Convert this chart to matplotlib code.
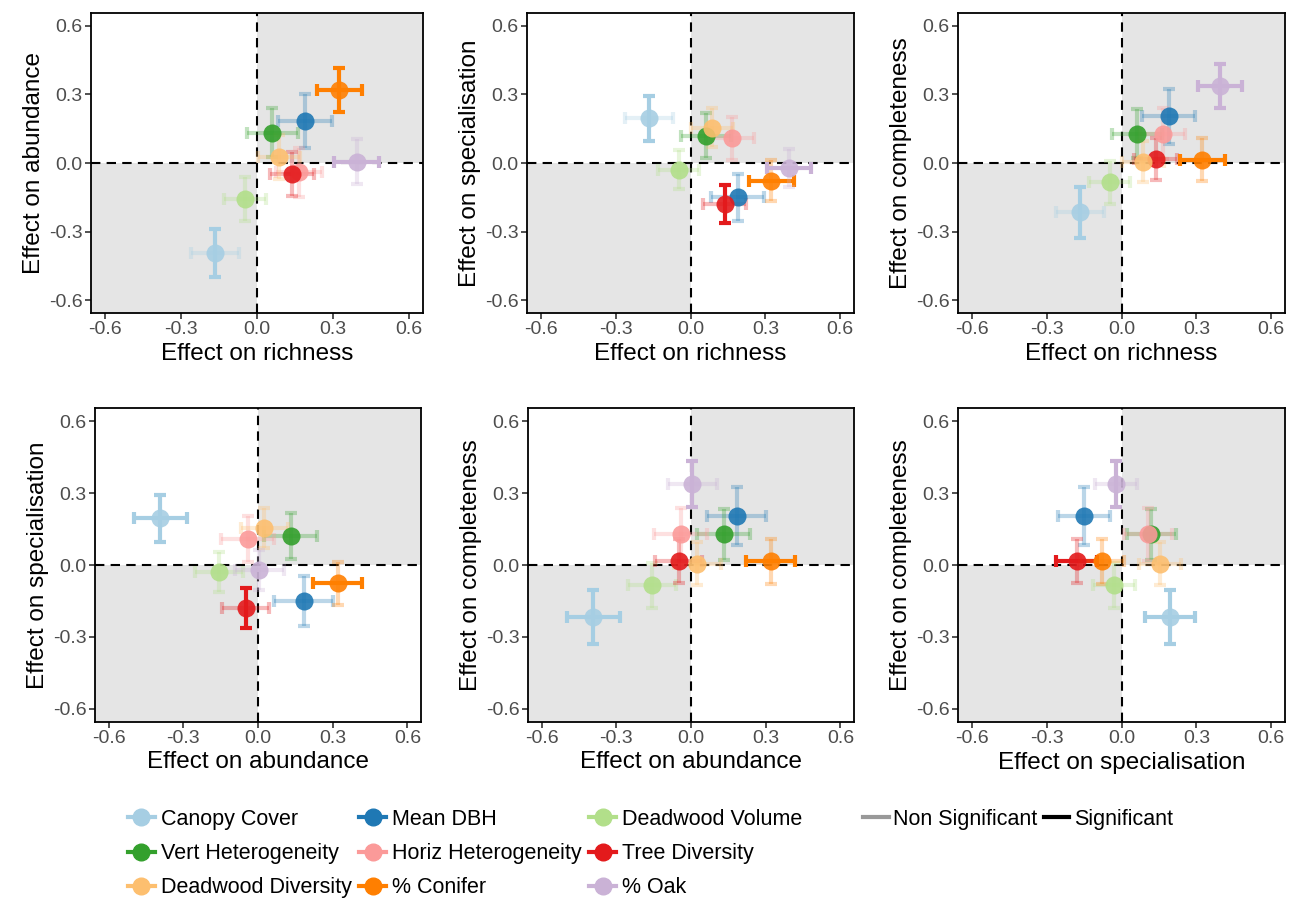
import numpy as np
import matplotlib
matplotlib.use('Agg')
import matplotlib.pyplot as plt
from matplotlib.lines import Line2D

plt.rcParams['font.family'] = ['Liberation Sans', 'DejaVu Sans']

# habitat variables and their colours
names = ['Canopy Cover', 'Mean DBH', 'Deadwood Volume',
         'Vert Heterogeneity', 'Horiz Heterogeneity', 'Tree Diversity',
         'Deadwood Diversity', '% Conifer', '% Oak']
colors = ['#A6CEE3', '#1F78B4', '#B2DF8A', '#33A02C', '#FB9A99',
          '#E31A1C', '#FDBF6F', '#FF7F00', '#CAB2D6']

# effect sizes, CI half widths and significance (1 = significant)
richness = [-0.167, 0.189, -0.047, 0.061, 0.166, 0.137, 0.087, 0.324, 0.393]
richness_ci = [0.095, 0.105, 0.083, 0.100, 0.090, 0.087, 0.083, 0.089, 0.088]
richness_sig = [0, 0, 0, 0, 0, 0, 0, 1, 1]

abundance = [-0.393, 0.183, -0.156, 0.132, -0.041, -0.050, 0.026, 0.320, 0.006]
abundance_ci = [0.106, 0.118, 0.096, 0.106, 0.106, 0.096, 0.096, 0.097, 0.097]
abundance_sig = [1, 0, 0, 0, 0, 0, 0, 1, 0]

specialisation = [0.195, -0.150, -0.029, 0.120, 0.107, -0.180, 0.154, -0.077, -0.022]
specialisation_ci = [0.099, 0.103, 0.085, 0.097, 0.096, 0.082, 0.084, 0.088, 0.084]
specialisation_sig = [1, 0, 0, 0, 0, 1, 0, 0, 0]

completeness = [-0.216, 0.204, -0.085, 0.128, 0.128, 0.017, 0.006, 0.015, 0.337]
completeness_ci = [0.113, 0.120, 0.095, 0.107, 0.110, 0.093, 0.091, 0.095, 0.097]
completeness_sig = [1, 0, 0, 0, 0, 0, 0, 0, 1]

ticks = [-0.6, -0.3, 0.0, 0.3, 0.6]
tick_labels = ['-0.6', '-0.3', '0.0', '0.3', '0.6']

measures = {
    'richness': (richness, richness_ci, richness_sig),
    'abundance': (abundance, abundance_ci, abundance_sig),
    'specialisation': (specialisation, specialisation_ci, specialisation_sig),
    'completeness': (completeness, completeness_ci, completeness_sig),
}

panels = [('richness', 'abundance'), ('richness', 'specialisation'),
          ('richness', 'completeness'), ('abundance', 'specialisation'),
          ('abundance', 'completeness'), ('specialisation', 'completeness')]

# axes boxes in pixels: left, top, width, height
boxes = [(91, 13, 332, 300), (527, 13, 327, 300), (958, 13, 327, 300),
         (95, 408, 326, 314), (528, 408, 326, 314), (958, 408, 327, 314)]

W, H = 1300, 900
fig = plt.figure(figsize=(13, 9), dpi=100)

lim = 0.655
for (xm, ym), (l, t, w, h) in zip(panels, boxes):
    ax = fig.add_axes([l / W, 1 - (t + h) / H, w / W, h / H])
    ax.set_xlim(-lim, lim)
    ax.set_ylim(-lim, lim)
    ax.fill_between([0, lim], 0, lim, color='#E5E5E5', lw=0, zorder=0)
    ax.fill_between([-lim, 0], -lim, 0, color='#E5E5E5', lw=0, zorder=0)
    ax.axhline(0, color='black', ls=(0, (4.5, 3)), lw=1.5, zorder=1)
    ax.axvline(0, color='black', ls=(0, (4.5, 3)), lw=1.5, zorder=1)

    xv, xci, xs = measures[xm]
    yv, yci, ys = measures[ym]
    for i in range(len(names)):
        ax.errorbar(xv[i], yv[i], xerr=xci[i], fmt='none', ecolor=colors[i],
                    elinewidth=3, capsize=4.5, capthick=3,
                    alpha=1.0 if xs[i] else 0.3, zorder=2)
        ax.errorbar(xv[i], yv[i], yerr=yci[i], fmt='none', ecolor=colors[i],
                    elinewidth=3, capsize=4.5, capthick=3,
                    alpha=1.0 if ys[i] else 0.3, zorder=2)
    for i in range(len(names)):
        ax.plot(xv[i], yv[i], 'o', color=colors[i], ms=13, mew=0,
                alpha=0.9, zorder=3)

    ax.set_xticks(ticks)
    ax.set_xticklabels(tick_labels)
    ax.set_yticks(ticks)
    ax.set_yticklabels(tick_labels)
    ax.tick_params(labelsize=14, colors='#4D4D4D', length=4, width=1.2, pad=2)
    ax.tick_params(color='#333333')
    for s in ax.spines.values():
        s.set_linewidth(1.3)
        s.set_color('black')
    ax.set_xlabel('Effect on ' + xm, fontsize=17.5, labelpad=3)
    ax.set_ylabel('Effect on ' + ym, fontsize=17.5, labelpad=3)

# colour legend (row-wise order in a 3-column legend)
handles = [Line2D([], [], color=c, marker='o', ms=12, lw=3) for c in colors]
order = [0, 3, 6, 1, 4, 7, 2, 5, 8]
fig.legend([handles[i] for i in order], [names[i] for i in order],
           ncol=3, loc='upper left', bbox_to_anchor=(117 / W, 1 - 798 / H),
           frameon=False, fontsize=15.5, handlelength=1.25, handletextpad=0.28,
           columnspacing=0.35, labelspacing=0.62, borderpad=0)

sig_handles = [Line2D([], [], color='#999999', lw=3),
               Line2D([], [], color='black', lw=3)]
fig.legend(sig_handles, ['Non Significant', 'Significant'], ncol=2,
           loc='upper left', bbox_to_anchor=(852 / W, 1 - 798 / H),
           frameon=False, fontsize=15.5, handlelength=1.2, handletextpad=0.2,
           columnspacing=0.3, borderpad=0)

fig.savefig('out.png', dpi=100)
